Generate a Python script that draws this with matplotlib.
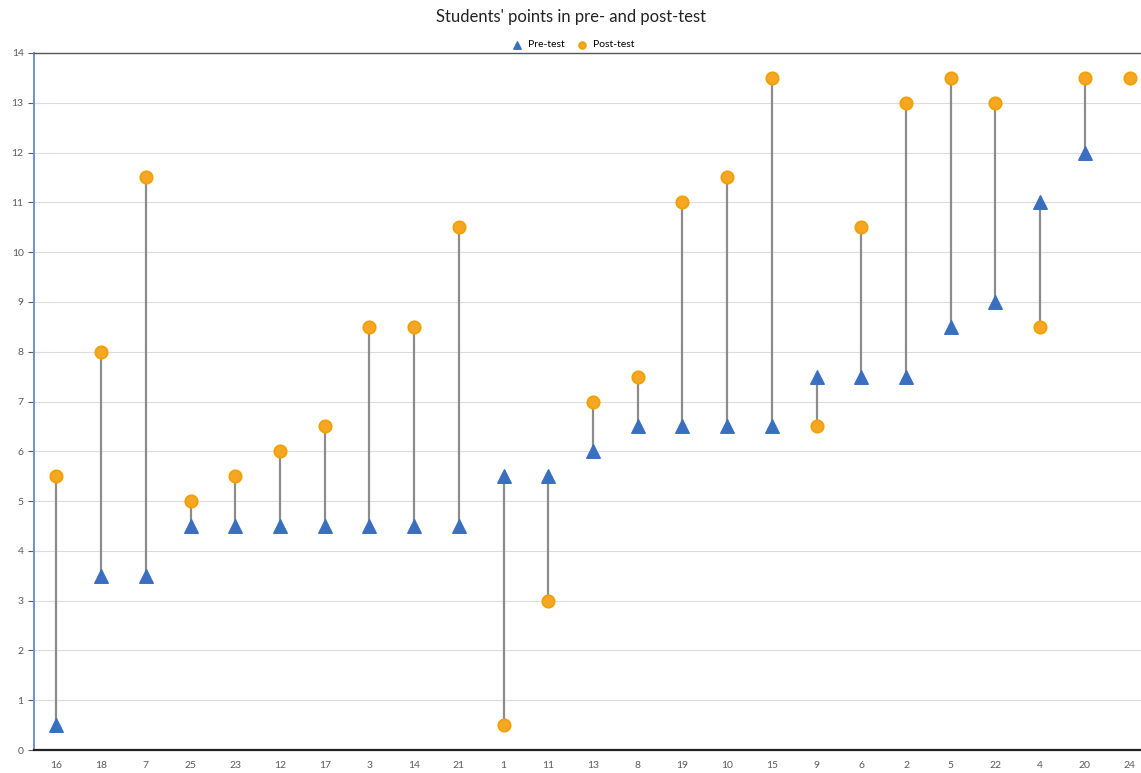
import matplotlib
matplotlib.use("Agg")
import matplotlib.pyplot as plt
import numpy as np

plt.rcParams['font.family'] = ['Lato', 'DejaVu Sans']

# Öğrenci numaraları ve puanlar (24 için ön test görünmüyor)
students = ['16', '18', '7', '25', '23', '12', '17', '3', '14', '21', '1', '11', '13',
            '8', '19', '10', '15', '9', '6', '2', '5', '22', '4', '20', '24']
pre_test = [0.5, 3.5, 3.5, 4.5, 4.5, 4.5, 4.5, 4.5, 4.5, 4.5, 5.5, 5.5, 6,
            6.5, 6.5, 6.5, 6.5, 7.5, 7.5, 7.5, 8.5, 9, 11, 12, np.nan]
post_test = [5.5, 8, 11.5, 5, 5.5, 6, 6.5, 8.5, 8.5, 10.5, 0.5, 3, 7,
             7.5, 11, 11.5, 13.5, 6.5, 10.5, 13, 13.5, 13, 8.5, 13.5, 13.5]

x = np.arange(len(students))

fig = plt.figure(figsize=(11.41, 7.73), dpi=100)
ax = fig.add_axes([34 / 1141, 23 / 773, 1118 / 1141, 697 / 773])

# dikey bağlantı çizgileri
ax.vlines(x, pre_test, post_test, color='#8c8c8c', lw=1.6, zorder=2)

ax.scatter(x, pre_test, marker='^', s=95, color='#3a6fc0', zorder=3, label='Pre-test')
ax.scatter(x, post_test, marker='o', s=80, color='#f5a623', edgecolors='#f0a000',
           linewidths=1.2, zorder=4, label='Post-test')

ax.set_xlim(-0.5, len(students) - 0.5)
ax.set_ylim(0, 14)
ax.set_yticks(range(0, 15))
ax.set_xticks(x)
ax.set_xticklabels(students)
ax.tick_params(axis='both', labelsize=7.5, colors='#595959')
ax.tick_params(axis='x', length=0, pad=8)
ax.tick_params(axis='y', length=4, direction='out', color='#595959')

ax.grid(axis='y', color='#dcdcdc', lw=0.8)
ax.set_axisbelow(True)
ax.spines['left'].set_color('#6f8fd8')
ax.spines['left'].set_linewidth(1.4)
ax.spines['bottom'].set_color('#222222')
ax.spines['bottom'].set_linewidth(1.6)
ax.spines['top'].set_color('#555555')
ax.spines['top'].set_linewidth(1.0)
ax.spines['right'].set_visible(False)

fig.text(0.5, 0.978, "Students' points in pre- and post-test", ha='center', va='center',
         fontsize=12, color='#222222')
fig.legend(loc='center', bbox_to_anchor=(0.5, 0.942), ncol=2, frameon=False,
           fontsize=7.5, handletextpad=0.1, columnspacing=0.6, markerscale=0.55)

fig.savefig('out.png', dpi=100)
